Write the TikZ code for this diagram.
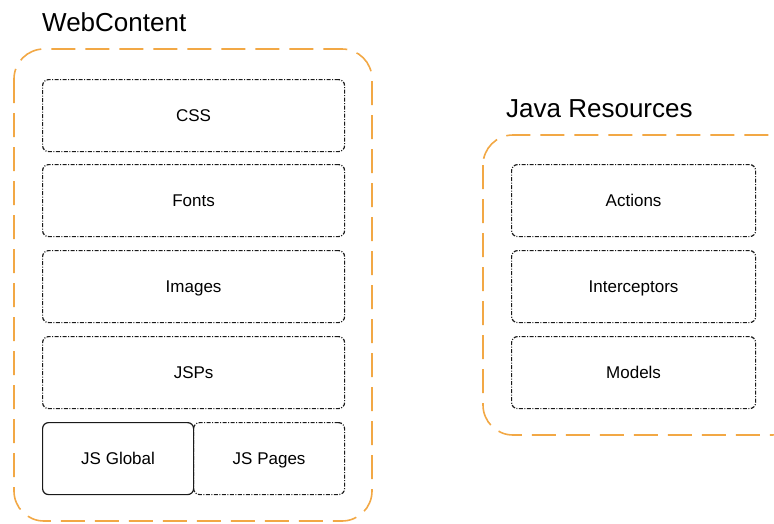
\documentclass[tikz,border=0pt]{standalone}
\usepackage{fontspec}
\setmainfont{Liberation Sans}
\definecolor{grporange}{HTML}{F2A845}
\definecolor{boxline}{HTML}{1A1A1A}
\begin{document}
\begin{tikzpicture}[x=1pt,y=-1pt,
  group/.style={draw=grporange, line width=1.6pt, rounded corners=30pt, dash pattern=on 24pt off 10pt},
  item/.style={draw=boxline, line width=1.2pt, rounded corners=6pt, dash pattern=on 4pt off 1.5pt on 1pt off 1.5pt, minimum height=72pt, font=\fontsize{17}{20}\selectfont, text height=12pt, text depth=0pt, inner sep=0pt, anchor=north west},
  solitem/.style={item, solid},
  grplabel/.style={font=\fontsize{26}{30}\selectfont, anchor=base west, inner sep=0pt}]
\useasboundingbox (0,0) rectangle (774,523);
\begin{scope}
\clip (0,0) rectangle (774,523);
% WebContent group
\draw[group] (14,49) rectangle (372,521);
\node[grplabel] (wclabel) at (42,31) {WebContent};
\node[item, minimum width=302pt] (css) at (42,79) {CSS};
\node[item, minimum width=302pt] (fonts) at (42,164) {Fonts};
\node[item, minimum width=302pt] (images) at (42,250) {Images};
\node[item, minimum width=302pt] (jsps) at (42,336) {JSPs};
\node[solitem, minimum width=151pt] (jsglobal) at (42,422) {JS Global};
\node[item, minimum width=151pt] (jspages) at (193,422) {JS Pages};
% Java Resources group
\draw[group] (483,135) rectangle (802,435);
\node[grplabel] (jrlabel) at (506,117) {Java Resources};
\node[item, minimum width=244pt] (actions) at (511,164) {Actions};
\node[item, minimum width=244pt] (interceptors) at (511,250) {Interceptors};
\node[item, minimum width=244pt] (models) at (511,336) {Models};
\end{scope}
\end{tikzpicture}
\end{document}
